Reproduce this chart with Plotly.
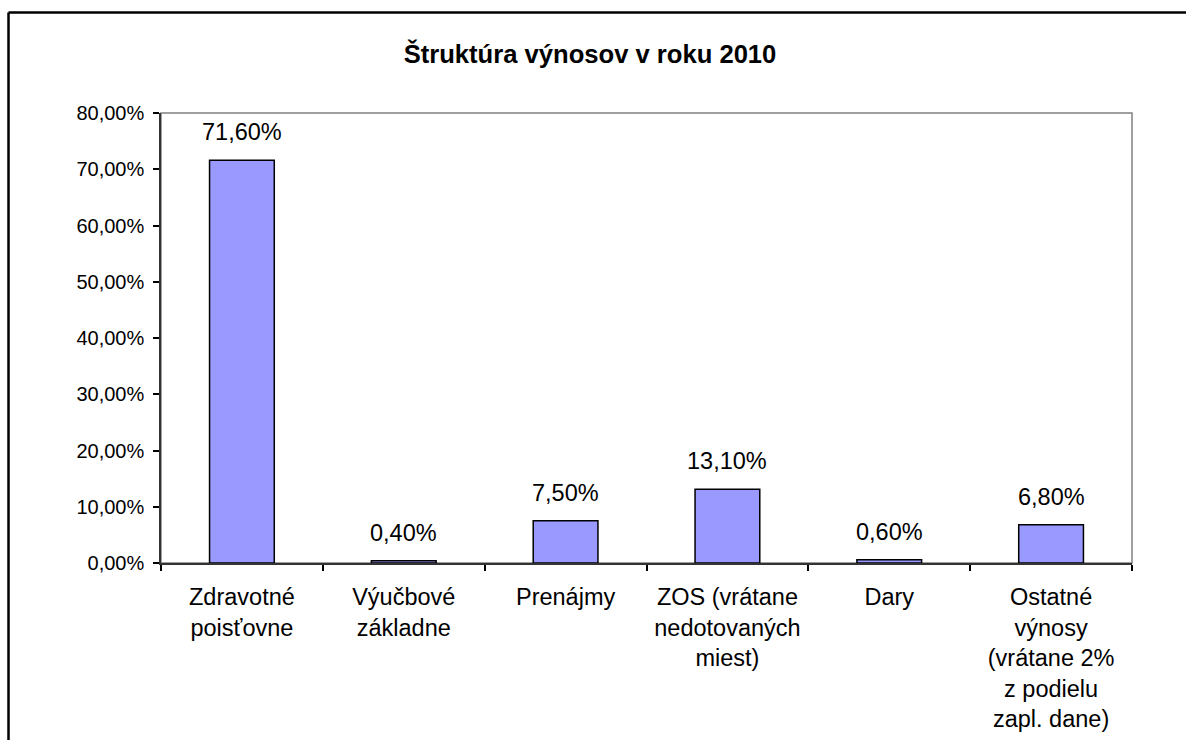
import plotly.graph_objects as go

categories = [
    "Zdravotné<br>poisťovne",
    "Výučbové<br>základne",
    "Prenájmy",
    "ZOS (vrátane<br>nedotovaných<br>miest)",
    "Dary",
    "Ostatné<br>výnosy<br>(vrátane 2%<br>z podielu<br>zapl. dane)",
]
values = [71.6, 0.4, 7.5, 13.1, 0.6, 6.8]
y_tickvals = [0, 10, 20, 30, 40, 50, 60, 70, 80]
y_ticktext = ["0,00%", "10,00%", "20,00%", "30,00%", "40,00%", "50,00%", "60,00%", "70,00%", "80,00%"]
title_text = "Štruktúra výnosov v roku 2010"


def fmt(v):
    return f"{v:.2f}".replace(".", ",") + "%"


W, H = 1186, 740
L, T, R, B = 161, 113, 1132, 563
pw, ph = R - L, B - T

FONT = "Liberation Sans, Arial, sans-serif"

fig = go.Figure()
fig.add_trace(go.Bar(
    x=categories,
    y=values,
    marker=dict(color="#9999FF", line=dict(color="black", width=1.5)),
    width=0.4,
    hoverinfo="skip",
))

for c, v in zip(categories, values):
    fig.add_annotation(
        x=c, y=v, xref="x", yref="y",
        text=fmt(v), showarrow=False,
        yanchor="bottom", yshift=13,
        font=dict(family=FONT, size=23.5, color="black"),
    )


def px_x(x):
    return (x - L) / pw


def px_y(y):
    return (B - y) / ph


shapes = [
    # plot-area frame (gray)
    dict(type="rect", xref="paper", yref="paper", x0=0, x1=1, y0=0, y1=1,
         line=dict(color="#808080", width=1.5), layer="below"),
    # outer chart frame (cut off at right and bottom)
    dict(type="line", xref="paper", yref="paper",
         x0=px_x(8.5), x1=px_x(1200), y0=px_y(12.5), y1=px_y(12.5),
         line=dict(color="black", width=2.5)),
    dict(type="line", xref="paper", yref="paper",
         x0=px_x(8.5), x1=px_x(8.5), y0=px_y(12.5), y1=px_y(760),
         line=dict(color="black", width=2.5)),
]

fig.update_layout(
    width=W, height=H,
    margin=dict(l=L, r=W - R, t=T, b=H - B, autoexpand=False),
    paper_bgcolor="white",
    plot_bgcolor="white",
    showlegend=False,
    shapes=shapes,
    title=dict(
        text="<b>" + title_text + "</b>",
        x=590 / W, xanchor="center",
        y=1 - 54 / H, yanchor="middle", yref="container",
        font=dict(family=FONT, size=25.6, color="black"),
    ),
    font=dict(family=FONT, color="black"),
    xaxis=dict(
        type="category",
        tickson="boundaries",
        ticks="outside", ticklen=6, tickcolor="black", tickwidth=1.5,
        showline=True, linecolor="#333333", linewidth=1.5,
        showgrid=False,
        tickfont=dict(family=FONT, size=23.5, color="black"),
        ticklabelstandoff=12,
        fixedrange=True,
    ),
    yaxis=dict(
        range=[0, 80],
        tickvals=y_tickvals, ticktext=y_ticktext,
        ticks="outside", ticklen=6, tickcolor="black", tickwidth=1.5,
        showline=True, linecolor="#333333", linewidth=1.5,
        showgrid=False, zeroline=False,
        tickfont=dict(family=FONT, size=20, color="black"),
        ticklabelstandoff=5,
        fixedrange=True,
    ),
)

fig.write_html(
    "out.html",
    config={"displayModeBar": False},
    post_script="document.body.style.margin='0';document.body.style.padding='0';",
)
